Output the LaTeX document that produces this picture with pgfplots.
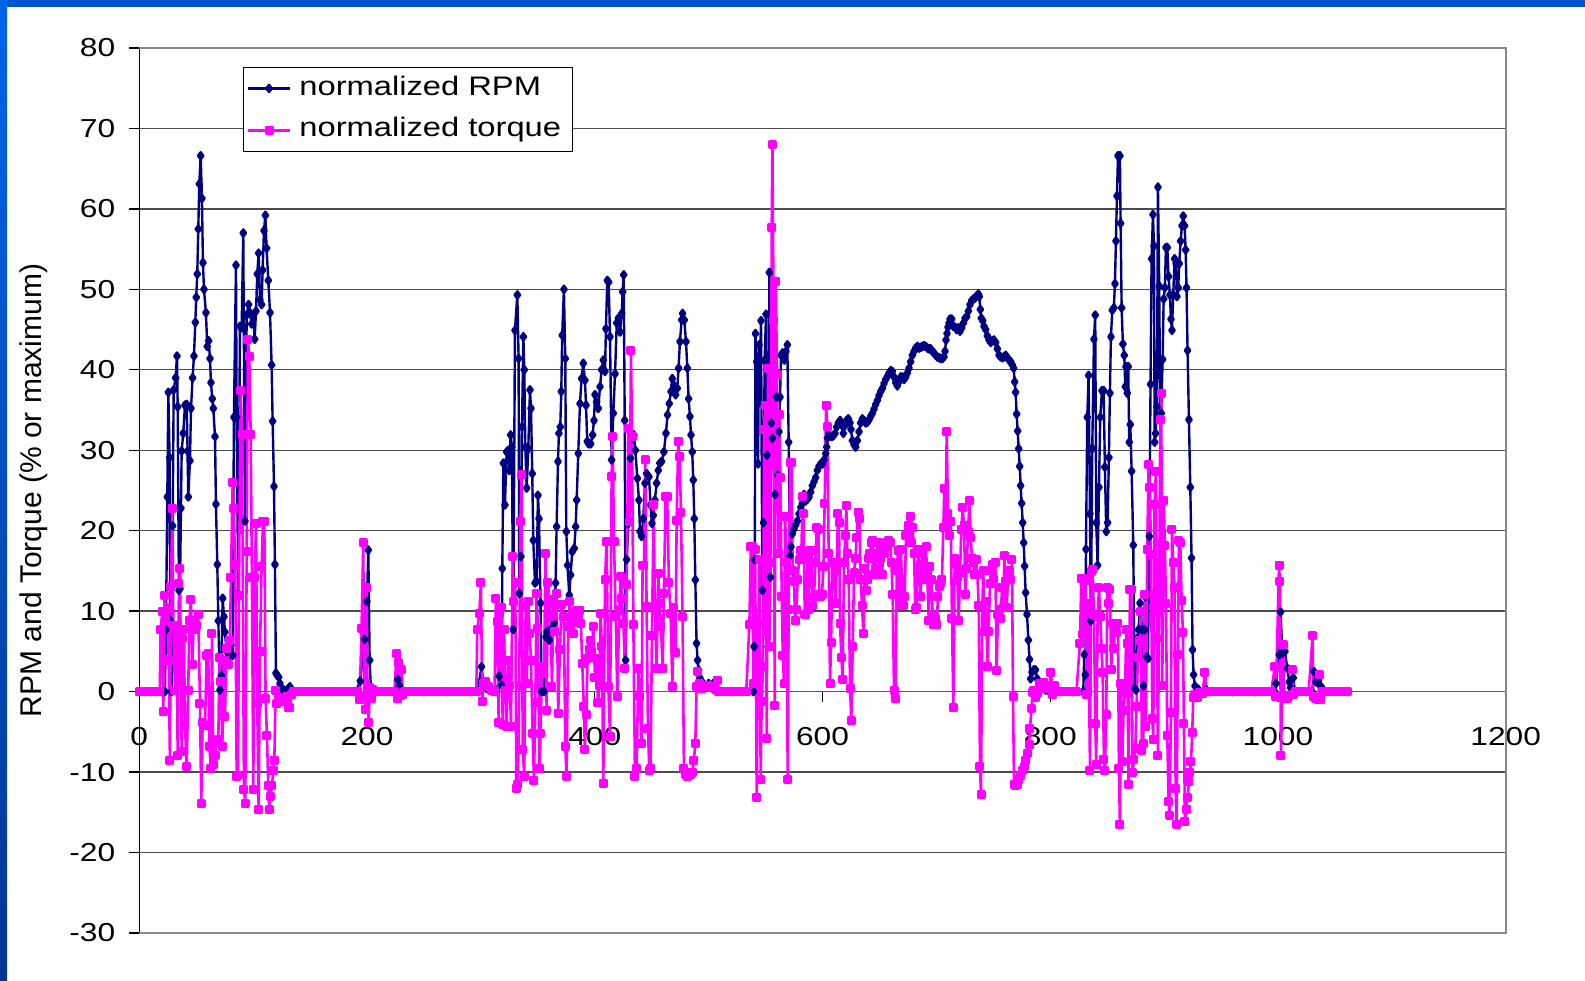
\documentclass[border=0pt]{standalone}
\usepackage{pgfplots}
\pgfplotsset{compat=1.18}
\usepackage{fontspec}
\setmainfont{Liberation Sans}[FakeStretch=1.22]
\newfontfamily\ylfont{Liberation Sans}
\definecolor{rpm}{RGB}{0,0,128}
\definecolor{trq}{RGB}{255,0,255}
\definecolor{framegray}{RGB}{136,136,136}
\definecolor{slideblue}{RGB}{0,85,204}
\begin{document}
\begin{tikzpicture}
\useasboundingbox (0,0) rectangle (396.25pt,245.25pt);
\fill[white] (0,0) rectangle (396.25pt,245.25pt);
\begin{axis}[
  name=main,
  at={(34.825pt,12pt)}, anchor=south west,
  scale only axis, width=341.6pt, height=221.25pt,
  xmin=0, xmax=1200, ymin=-30, ymax=80,
  axis x line=middle, axis y line=left,
  hide obscured x ticks=false, hide obscured y ticks=false,
  x axis line style={-, draw=black!65, line width=0.4pt},
  y axis line style={-, draw=black, line width=0.4pt},
  xtick={0,200,...,1200}, ytick={-30,-20,...,80},
  tick align=outside, major tick length=2.5pt,
  tick style={black, line width=0.35pt},
  ymajorgrids, grid style={line width=0.35pt, black!70},
  /pgf/number format/assume math mode=true,
  /pgf/number format/1000 sep={},
  xticklabel style={font=\fontsize{6.5}{7.8}\selectfont, yshift=-2.8pt},
  yticklabel style={font=\fontsize{6.5}{7.8}\selectfont},
  ylabel={RPM and Torque (\% or maximum)},
  every axis y label/.style={at={(axis description cs:-0.0776,0.5)}, anchor=center, rotate=90, font=\ylfont\fontsize{7.5}{9}\selectfont},
  legend style={at={(axis description cs:0.0757,0.979)}, anchor=north west, draw=black, line width=0.4pt, fill=white,
    font=\fontsize{6.7}{8}\selectfont, inner xsep=0.8pt, inner ysep=0.1pt, row sep=0.1pt},
  legend cell align=left,
  legend image code/.code={\draw[mark repeat=2,mark phase=2] plot coordinates {(0cm,0cm) (0.185cm,0cm) (0.37cm,0cm)};},
  clip=false,
]
\addplot[rpm, line width=0.6pt, line join=round, mark=diamond*, mark size=0.9pt, mark options={solid, fill=rpm, draw=rpm}] coordinates {
(0,0) (5,0) (10,0) (15,0) (20,0) (22.5,0)
(23.4,7.7) (24.6,24.2) (25.5,37.2) (26.6,29.1) (27.2,8.8) (28.4,0) (29.3,20.6) (30.2,37.5) (31.9,39) (33.1,41.7) (33.7,35.4) (34.8,12.6) (35.7,12.8) (36.6,22.8) (37.2,29.9) (38.6,32.1) (40.1,35.6) (41.6,35.7) (42.4,29.9) (43,24.2) (44.5,28.7) (45.4,35.2) (46.8,39) (48,41.7) (49.2,45.9) (50,49) (50.9,51.9) (51.8,57.5) (52.7,63.1) (53.9,66.6) (55,61.3) (55.9,53.3) (56.8,50) (58.5,47.1) (59.7,42.9) (60.9,43.6) (62.1,41.4) (62.9,38.4) (64.1,36.4) (65,35.2) (66.5,31.7) (67.3,23.3) (68.5,15.8) (69.4,8.8) (70.8,0.2) (72,2) (73.2,11.6) (74.4,9.3) (75.2,7.4) (76.7,5) (78.2,5) (79,3.4) (80.5,5.8) (82,4.5) (83.1,34.1) (84.9,53) (85.5,34.1) (86.9,12) (88.4,45.4) (89.9,45.2) (91.3,57) (92.8,21.2) (94.3,46.8) (96,48.1) (97.2,47.1) (98.7,45.7) (100.1,46.5) (101.3,43.8) (102.5,47.3) (103.6,51.9) (104.8,54.5) (106,48.7) (107.4,48.1) (108.3,52.4) (109.5,57.3) (110.7,59.2) (111.8,55.1) (113.3,51.1) (114.8,47.1) (116.2,40.6) (117.1,33.6) (118.3,25.5) (119.1,15.8) (120,2.3) (121.2,2) (122.4,1.8) (123.5,1) (125,0.3) (127,0.2) (130.9,0.4) (132.3,0.6) (133.8,0.2) (136,0)
(150,0) (170,0) (190,0) (194,1.3) (197.9,6.5) (199.9,11.2) (201.1,17.6) (202.3,3.9) (203.5,0) (215,0) (225,0) (227,1.5) (228.5,0.7) (230,0) (250,0) (270,0) (290,0) (297,0) (300.6,3.1) (302.1,1) (305,0.4) (313.8,0) (316.1,1.9) (318.2,0.8)
(318.8,15.3) (319.7,28.4) (321.1,23.2) (322.6,29.8) (324,30) (324.9,27.5) (326.1,31.9) (327.2,30.4) (328.4,7.7) (329.9,44.9) (332,49.3) (333.1,41.4) (333.7,12.2) (335.2,16.8) (336.1,32.9) (337.3,44.1) (338.1,40) (339,30.4) (340.2,25.3) (341.6,30.2) (343.1,37.5) (344,35.2) (345.1,27.1) (346,18.8) (347.5,13.5) (348.9,13.7) (350.1,24.4) (351,21.5) (352.4,11) (353.3,0) (355.4,0) (357.1,6.8) (358.3,7.5) (360.1,6.4) (362.1,7.9) (364.2,8.5) (365.6,13.5) (366.5,20.5) (367.7,28.6) (368.5,32.1) (369.7,32.9) (370.6,37.3) (371.4,44.3) (372.9,50) (374.1,41.4) (375,19.9) (376.1,15.7) (377.6,12) (378.8,14.5) (380.2,17.4) (382,17.8) (383.2,20.5) (384.1,23.8) (385.5,29.6) (387,35.8) (388.4,38.9) (389.9,40.8) (391.4,38.7) (392.3,35.6) (393.4,31.1) (394.6,30.8) (396.4,30.8) (398.1,31.9) (399.3,33.7) (400.2,36.9) (401.6,36) (403.1,35.2) (404.6,37.9) (406,40) (407.5,41.2) (409,39.8) (409.8,45.1) (411,51.1) (412.2,50.9) (413.4,44.1) (414.8,28.8) (416.3,34.6) (417.8,39.5) (419.3,45.8) (420.7,46.4) (422.2,44.7) (423.7,47) (424.5,49.7) (425.4,51.8) (426.3,33.7) (427.1,3.9) (428,16.4) (429.5,20.9) (431.5,29) (433.3,31.5) (434.4,31.9) (435.6,30) (437.4,26.5) (438.8,23.8) (439.7,19.9) (441.1,19.3) (442.6,21.5) (444.1,25.9) (445.5,27.1) (447.6,26.7) (449,23.2) (450.2,20.9) (451.4,21.9) (452.8,23.8) (454.3,25.9) (455.8,27.5) (457.2,28.4) (458.7,28.6) (460.7,29.8) (462.5,32.1) (463.9,34.4) (465.4,35.8) (466.9,37.3) (468.1,38.9) (469.5,38.1) (471,36.9) (472.5,37.7) (473.6,40.2) (474.8,43.5) (476.3,46.2) (477.1,47) (478.6,46.2) (480.1,43.5) (481.3,40.2) (482.4,36.4) (483.6,34.2) (484.5,31.9) (485.6,29.8) (486.5,26.3) (487.4,21.5) (488.3,13.9) (489.4,6) (490.3,3.9) (491.2,2.7) (492.4,1.7) (495.3,1) (500,1) (504,1) (507,0) (520,0) (530,0) (539.3,0)
(539.9,5.6) (540.5,16.4) (541.1,44.5) (542.2,41) (543.4,28.3) (544.3,43.1) (545.1,41) (546,46.1) (547.2,12.6) (548.1,21) (549.2,41.2) (550.4,46.9) (551.3,29.4) (552.2,5.6) (553.3,52.1) (554.2,14.2) (555.1,33.4) (556,31.5) (557.1,46.1) (558.3,24.5) (559.5,36.6) (560.7,26.9) (561.8,32.3) (562.7,36.6) (563.6,41.8) (565,42.1) (566.5,41.2) (568,42.3) (569.1,43.1) (570.3,31) (571.5,16.9) (572.4,18) (573.5,19.6) (575,20.2) (576.5,20.7) (577.9,21.2) (579.4,22.1) (580.9,22.9) (582.3,23.4) (583.8,24.5) (585.2,23.7) (586.7,23.9) (588.2,24.2) (589.6,24.8) (591.1,25.6) (592.6,26.1) (594,26.6) (595.5,27.5) (596.9,28) (598.4,28.3) (599.9,28.3) (601.3,28.8) (602.8,29.6) (603.7,30.4) (604.3,31.5) (605.2,32.1) (606.6,31.8) (608.1,31.7) (609.5,31.8) (611,32.1) (612.5,32.9) (613.9,33.4) (615.4,33.7) (616.9,33.1) (618.3,32.1) (619.8,33.1) (621.2,33.7) (622.7,33.9) (624.2,33.4) (625,32.6) (626.2,31.2) (627.7,30.7) (629.1,30.4) (630.6,31.2) (632.1,32.3) (633.5,33.4) (635,33.9) (636.5,33.7) (637.9,33.4) (639.4,33.5) (640.9,33.8) (642.3,34.2) (643.8,34.6) (645.2,35.1) (646.7,35.7) (648.2,36.2) (649.6,36.8) (651.1,37.3) (652.6,37.7) (654,38.3) (655.5,38.8) (657,39.2) (658.4,39.6) (659.9,39.9) (661.3,39.8) (662.8,39.1) (664.3,38.4) (665.7,38) (667.2,38.5) (668.7,39.1) (670.1,39.1) (671.6,38.8) (673.1,39.1) (674.5,39.6) (676,40.2) (677.4,41) (678.9,41.8) (680.4,42.3) (681.8,42.7) (683.3,42.9) (684.8,42.7) (686.2,42.8) (687.7,42.9) (689.2,43) (690.6,42.9) (692.1,42.7) (693.5,42.6) (695,42.6) (696.5,42.3) (697.9,42.1) (699.4,41.8) (700.9,41.6) (702.3,41.5) (703.8,41.4) (705.3,41.4) (706.7,41.6) (707.6,42.3) (708.5,43.7) (709.4,44.5) (710.2,45.3) (711.1,45.8) (712,46.3) (713.5,46.3) (714.9,45.4) (716.4,45.3) (717.8,45) (719.3,45.2) (720.8,44.8) (722.2,45.2) (723.7,45.8) (725.2,46.4) (726.6,46.6) (728.1,47.3) (729.5,48.1) (731,48.6) (732.5,48.8) (733.9,48.9) (735.4,49.2) (736.9,49.4) (737.7,49.1) (738.6,47.5) (739.5,46.4) (740.7,46.1) (741.8,45.4) (743.3,45) (744.8,44.2) (746.2,43.7) (747.7,43.4) (749.2,43.6) (750.6,43.7) (752.1,43.4) (753.6,42.6) (755,41.8) (756.5,41.6) (757.9,41.5) (759.4,41.6) (760.9,41.8) (762.3,41.5) (763.8,41.2) (765.3,41) (766.7,40.6) (767.9,40.2) (768.8,38.5) (769.6,37.2) (770.5,34.5) (771.4,32.4) (772.3,30.2) (773.2,28) (774,25.6) (774.9,23.4) (775.8,21) (776.7,18.5) (777.5,15.6) (778.4,12.3) (779.6,9.6) (780.8,6.4) (781.8,4) (782.8,1.6) (784,2.4) (785.5,2.7) (787,2.7) (788.5,1.6) (790.5,1) (793,0.6) (796,0.2) (799,0) (810,0) (820,0) (829,0)
(829.9,4.6) (830.8,2.1) (831.4,17.7) (832.5,34.1) (833.7,39.3) (834.9,22.1) (835.7,8.8) (836.9,30.2) (838.4,43.8) (839.5,46.8) (840.4,21) (841.6,15.7) (842.8,25.4) (843.9,34.1) (845.4,37.4) (846.9,37.4) (848,27.9) (849.2,19.9) (850.4,21) (851.5,29.1) (852.4,37.1) (853.3,44.1) (854.5,47.4) (855.9,47.7) (856.8,50.7) (857.7,56) (858.6,61.6) (859.5,66.6) (861.2,66.6) (861.8,58.2) (862.7,47.7) (863.8,43.2) (865,41.8) (865.9,37.9) (866.5,40.4) (867.6,37.1) (868.5,40.4) (869.4,31) (870.3,33.2) (871.5,27.4) (872.9,18.2) (874.1,0.4) (875.3,0.2) (876.4,6.6) (877.6,7.7) (878.8,11) (879.7,9.9) (880.5,7.7) (881.7,0.7) (882.9,7.7) (883.7,11.8) (884.9,4.3) (885.8,4.1) (887,19.3) (888.1,38.2) (889,53.8) (890.2,59.3) (891.1,55.4) (891.7,31) (892.5,32.1) (893.7,35.4) (894.6,62.7) (895.7,50.4) (896.6,34.3) (897.5,34.6) (898.7,41.3) (899.6,48.8) (900.7,50.2) (901.6,55.2) (902.8,55.2) (903.9,51.6) (905.1,49.3) (906,46.3) (906.9,44.9) (908,49.3) (909.2,53.8) (910.4,53.2) (911.3,49.1) (912.4,50.2) (913.3,53.2) (914.5,56) (915.7,57.9) (916.8,59.1) (918,57.9) (918.9,54.9) (919.7,50.2) (920.6,42.4) (921.8,33.8) (923,25.4) (924.1,16.6) (925,5.2) (925.9,2.1) (927.1,0.7) (930,0.3) (937,0.2) (940,0) (960,0) (980,0) (997,0)
(998.2,1) (1001.1,4.6) (1002.3,9.9) (1003.8,4.8) (1006.1,5) (1008.2,2.9) (1009.9,1.2) (1011,0.5) (1013.4,1.7) (1015,0) (1025,0) (1030,0) (1031.6,2.5) (1033.3,1.2) (1035.4,1.4) (1036.9,0.8) (1038.5,0.5) (1040,0) (1050,0) (1061,0)
};
\addlegendentry{normalized RPM}
\addplot[trq, line width=0.65pt, line join=round, mark=square*, mark size=0.8pt, mark options={solid, fill=trq, draw=trq}] coordinates {
(0,0) (3,0) (6,0) (9,0) (12,0) (15,0) (18,0)
(18.7,7.7) (20.2,9.9) (21.1,-2.5) (22.2,12) (23.4,8.8) (24.6,10.4) (25.8,3.9) (26.9,-8.5) (27.8,13.1) (29,22.8) (29.9,8.2) (31.3,0.2) (32.8,8.2) (33.7,-7.9) (34.8,13.4) (35.7,15.3) (37.2,-7.4) (38,6.6) (39.2,7.7) (40.1,-4.2) (41.6,-9.3) (43,0.2) (43.9,8.8) (45.4,11.5) (46.5,3.4) (48,8.8) (49.5,7.7) (50.6,8.2) (51.8,9.6) (53.3,-1.5) (54.4,-13.9) (55.6,-3.9) (57.7,-4.2) (59.1,4.5) (60.6,4.7) (61.5,-6.8) (62.9,-9.5) (63.8,7.2) (65,-9) (66.5,-7.9) (67.9,-6.3) (69.4,-6) (70.3,4.2) (71.7,1.2) (72.9,-6.8) (74.4,3.9) (75.2,-3.1) (76.7,5.3) (78.2,3.4) (79.6,6.4) (80.5,14.2) (82,26) (82.8,22.8) (84.3,15.8) (85.5,-10.6) (86.7,-10.4) (87.5,12) (89,37.4) (90.2,32) (91.9,-12.2) (93.1,-13.9) (94.3,17.4) (95.4,43.8) (96.6,41.7) (97.8,32) (98.9,14.2) (100.1,-12.2) (101.3,14.2) (102.5,20.9) (103.6,-1.5) (104.8,-14.7) (106,5) (107.4,15.5) (108.6,21.2) (109.8,21.2) (110.9,-0.9) (112.1,-5.5) (113.3,-11.7) (114.2,-14.7) (115.3,-13) (116.5,-11.7) (117.7,-9.8) (118.6,-8.5) (119.7,0.2) (120.9,-1.5) (122.1,-0.9) (123.5,-1.2) (125,-0.9) (126.5,-1.2) (127.9,-0.9) (129.4,-0.6) (130.9,-2) (132.3,-2) (133.8,-0.4) (135,0)
(138,0) (141,0) (144,0) (147,0) (150,0) (153,0) (156,0) (159,0) (162,0) (165,0) (168,0) (171,0) (174,0) (177,0) (180,0) (183,0) (186,0) (189,0) (192,0)
(193.5,-1) (195.2,7.9) (196.7,18.5) (197.5,-0.5) (198.5,-2.2) (199.6,12.9) (200.5,-0.5) (201.4,-3.8) (202.5,0.5) (203.5,-0.8) (204.5,0.3) (206,0) (209,0) (212,0) (215,0) (218,0) (221,0) (224,0)
(226,4.7) (226.8,-0.9) (227.5,3.6) (229,-0.5) (230.3,2.7) (231.5,-0.3) (233,0) (236,0) (239,0) (242,0) (245,0) (248,0) (251,0) (254,0) (257,0) (260,0) (263,0) (266,0) (269,0) (272,0) (275,0) (278,0) (281,0) (284,0) (287,0) (290,0) (293,0) (296,0)
(296.8,7.7) (298.6,9.7) (300,13.5) (301.2,-1.2) (302.7,1) (304.4,1.2) (306.5,0.6) (309.4,0.2) (312,0) (313.2,11.6) (314.4,8.7) (315.6,-3.9) (316.7,9.7) (318.2,10.4) (319.1,-4.1) (320.3,7.7) (321.4,0.2) (322.6,-4.3) (324,3.9) (325.5,0.8) (326.4,-4.3) (327.9,16.8) (329,11.2) (330.2,13.5) (331.1,-12) (332.5,-11.5) (333.7,0.8) (334.6,21.1) (335.8,27) (336.7,-7.2) (338.1,-10.5) (339.3,10.6) (340.2,1) (341.6,11.2) (342.8,7.2) (344,3.9) (345.4,-5.2) (346.6,-11) (347.8,-1.4) (348.9,12.2) (350.1,7.9) (351.3,-9.5) (352.4,-5.2) (353.6,3.1) (355.4,2.3) (356.8,17.2) (357.7,-2.3) (358.9,13.5) (360.1,11.4) (361.2,9.3) (362.4,0.6) (363.6,11) (365,7.5) (366.5,12.2) (367.9,-2.7) (369.4,5.2) (370.8,10.8) (372.9,9.3) (374.1,-6.8) (375.2,-10.5) (376.7,8.1) (378.1,11.2) (379.6,8.5) (381.1,7.2) (382.5,9.3) (384,10.1) (385.5,9.5) (386.9,10.1) (387.8,8.5) (389,3.5) (390.4,-1.9) (391.3,-7.2) (392.5,-2.9) (393.7,4.1) (395.1,5.2) (396.3,6.4) (397.5,5) (398.7,8.1) (400.2,1.7) (401.6,4.1) (402.8,-1.4) (404,0.8) (405.1,9.7) (406.3,5.6) (407.5,-11.4) (409,13.9) (410.4,18.6) (411.9,0.6) (413.4,-5.6) (414.8,26.7) (415.7,31.7) (416.9,18.6) (418.4,9.3) (419.8,-0.6) (421.6,10.1) (422.7,14.3) (423.9,11.6) (425.1,8.5) (426.5,2.9) (428,13.3) (429.5,32.7) (430.6,21.1) (431.8,42.4) (432.7,31.7) (433.9,8.3) (435.3,-10.5) (436.8,-9.5) (438.3,2.9) (439.7,-0.6) (441.1,-6.4) (442,15.7) (443.2,15.7) (444.4,28.8) (445.5,10.6) (446.7,-4.6) (447.9,-9.8) (449,-9.5) (450.2,7) (451.7,23.2) (452.8,10.4) (454.3,2.9) (455.8,14.7) (456.9,11) (458.1,8.1) (459.6,2.9) (460.7,12.2) (462.2,24.2) (463.6,24.2) (465.1,13.5) (466.6,9.7) (468.1,0.6) (469.5,10.4) (471,4.8) (471.9,21.3) (473.3,31.1) (474.5,29.2) (475.7,22.2) (477.1,9.3) (478.3,-9.5) (479.8,-10.3) (481.3,-10.5) (483,-10) (484.5,-10.3) (485.6,-10) (487.1,-8.5) (488.3,-6.4) (489.4,0.6) (490.3,2.5) (491.8,1) (493.9,0.4) (496.8,0.6) (499.7,0.8) (502,0.5) (504.1,0.6) (506,0.3) (507.6,1.4) (509,0)
(512,0) (515,0) (518,0) (521,0) (524,0) (527,0) (530,0) (533,0)
(535.8,8.3) (537,18) (538.1,18) (539.3,1) (540.8,17.7) (542.2,-13.1) (543.7,8.5) (544.6,16.4) (545.7,-10.9) (546.6,-1.2) (547.8,3.1) (548.7,32.6) (549.8,35.6) (551,-5.8) (552.2,40.2) (553.3,5.6) (554.5,16.1) (555.4,57.7) (556,68) (557.1,46.1) (558,-1.7) (558.9,51) (560.1,39.4) (561.2,17.2) (562.1,34.5) (563,26.6) (564.2,11.8) (565.1,4.5) (566.2,1) (567.1,21.8) (568.6,16.1) (569.4,-10.9) (570.3,10.2) (571.5,28.5) (572.7,28.5) (573.8,15) (575,13.7) (575.9,8.8) (577.1,10.2) (578.2,13.9) (579.4,16.4) (580.3,17.5) (581.4,17.2) (582.6,24.2) (583.2,22.1) (584.4,9.6) (585.5,9.6) (586.7,16.4) (587.9,10.2) (589,17.5) (590.2,17.5) (591.4,10.7) (592.6,11.8) (593.7,16.1) (594.9,20.4) (596.4,20.2) (597.2,12.1) (598.4,11.8) (599.6,12.1) (600.8,15.6) (601.9,23.4) (603.1,35.6) (604.3,32.9) (605.4,17.2) (606.6,1) (607.5,6.1) (608.7,16.1) (610.1,16.1) (611.3,11) (612.5,15.8) (613.6,22.1) (614.5,21) (615.4,8.5) (616.6,4.2) (617.7,1.5) (618.9,16.1) (620.1,19.4) (620.9,23.1) (621.8,17.2) (623,13.9) (624.2,0.4) (625.3,-3.6) (626.5,5.6) (627.7,14.8) (628.9,16.6) (630,19.1) (631.2,22.3) (632.4,21.5) (633.5,13.9) (634.7,10.7) (635.9,7.2) (637.1,15.3) (638.2,12.6) (639.4,13.9) (640.6,16.6) (641.7,17.2) (642.9,18.5) (644.1,18.8) (645.2,14.5) (646.4,15.3) (647.6,17.2) (648.8,18.5) (649.9,14.5) (651.1,16.6) (652.3,14.5) (653.4,17.7) (654.6,17.2) (655.8,18.5) (657,18) (658.1,18.8) (659.3,18.5) (660.5,16.1) (661.6,12.1) (662.8,0.2) (664,-0.9) (665.2,15) (666.3,17.5) (667.5,10.7) (668.7,17.7) (669.8,13.9) (671,10.7) (672.2,11.8) (673.3,19.4) (674.5,19.6) (675.7,20.7) (676.9,21.8) (678,18.5) (679.2,20.4) (680.4,17.2) (681.5,10.2) (682.7,10.4) (683.9,17.7) (685.1,15.6) (686.2,11.8) (687.4,17.2) (688.6,15.6) (689.7,13.9) (690.9,18) (692.1,13.9) (693.3,8.8) (694.4,15.6) (695.6,13.9) (696.8,9.4) (697.9,8.3) (699.1,9.1) (700.3,8.3) (701.4,11.8) (702.6,13.1) (703.8,13.4) (704.9,13.9) (706.1,20.4) (707,25.3) (707.9,20.4) (709.1,32.3) (710.2,22.1) (711.4,19.4) (712.6,21.2) (713.7,9.1) (714.9,-2) (716.1,16.6) (717.3,15.8) (718.4,14.2) (719.6,8.8) (720.8,14.8) (721.9,20.2) (723.1,22.9) (724.3,20.7) (725.4,12.1) (726.6,15.3) (727.8,19.9) (729,23.7) (730.1,19.1) (731.3,16.6) (732.5,16.1) (733.6,14.5) (734.8,16.4) (736,14.5) (737.2,10.7) (738.3,-9.3) (739.2,-12.8) (740.4,10.7) (741.2,15) (742.4,7.5) (743.6,11.2) (744.8,3.1) (745.9,7.5) (747.1,13.4) (748.3,15) (749.4,15.8) (750.6,13.9) (751.8,16.1) (752.9,2.6) (754.1,9.6) (755.3,10.2) (756.5,9.1) (757.6,12.9) (758.8,10.4) (759.7,16.9) (760.6,13.7) (761.7,10.4) (762.9,13.9) (764.1,15) (765.3,13.9) (766.4,16.4) (767.3,-0.6) (768.2,-11.5) (769.6,-11.7) (771.1,-11.5) (772.3,-10.9) (774,-10.4) (775.5,-9.8) (777,-9.3) (778.4,-8.5) (779.9,-7.7) (781.4,-6.6) (782.2,-4.6) (783.6,-2.1) (784.5,-0.1) (785.7,0.2) (787.2,-0.7) (788.6,-0.2) (790.4,1) (792.4,0.4) (794.5,1.1) (796.8,0.4) (799.2,0.7) (800.6,2.4) (802.1,-0.4) (803.3,0.7) (805,0)
(808,0) (811,0) (814,0) (817,0) (820,0) (823,0)
(826.1,6) (827.3,14.1) (828.4,7.1) (829.6,14.1) (831.1,13.8) (831.9,-0.4) (833.4,11) (834.9,-9.8) (836,14.9) (837.2,15.2) (838.4,9.6) (839.5,-4) (840.4,-9) (841.6,9.3) (842.8,12.9) (843.9,9.3) (845.1,5.4) (846,2.4) (847.2,-8.4) (848,-9.8) (849.2,-2.9) (850.1,12.9) (851.3,11) (852.4,12.7) (853.6,2.7) (854.8,8.5) (855.9,5.4) (857.1,8.5) (858.3,7.4) (859.5,8.5) (860.3,-9.6) (861.2,-16.5) (862.1,1) (863.3,-8.7) (864.4,-2.3) (865.6,-0.1) (866.8,7.7) (867.6,6) (868.8,-11.5) (870,12.7) (871.2,12.7) (872.3,-10.1) (873.5,-8.4) (874.7,-7.1) (875.8,-1.8) (877,4.3) (878.2,6.3) (879.4,9.9) (880.5,-7.3) (881.7,-6.5) (882.9,12.1) (884,-4.3) (885.2,17.7) (886.4,28.2) (887.6,25.4) (888.4,17.1) (889.6,-3.4) (890.5,-5.9) (891.6,23.2) (892.8,27.4) (893.7,6.6) (894.6,-7.9) (895.7,11.8) (896.6,33.8) (897.5,37.1) (898.4,0.7) (899.6,23.8) (900.7,18.2) (901.6,11) (902.8,-5.4) (903.9,-13.7) (904.8,-15.4) (906,-2.6) (906.9,20.2) (908,16) (909.2,12.9) (910.1,-12.1) (911,-16.5) (912.1,4.6) (913,18.8) (914.2,18.5) (915.4,11.3) (916.5,7.4) (917.4,-4) (918.3,-16.2) (919.5,-14.6) (920.6,-13.2) (921.8,-11.2) (922.7,-10.1) (923.6,-8.7) (924.7,-5.1) (925.6,-0.7) (927.1,-0.4) (929.1,-0.7) (931.5,-0.1) (933.8,-0.2) (935.8,2.4) (937.5,0)
(940,0) (943,0) (946,0) (949,0) (952,0) (955,0) (958,0) (961,0) (964,0) (967,0) (970,0) (973,0) (976,0) (979,0) (982,0) (985,0) (988,0) (991,0) (994,0)
(997.3,3.1) (998.2,-0.6) (1000.9,15.7) (1001.7,13.7) (1002.6,-7.9) (1004.6,5.8) (1005.5,-0.8) (1008,-0.8) (1010,-0.5) (1012.8,2.7) (1013.5,-0.3) (1015,0) (1018,0) (1021,0) (1024,0) (1027,0)
(1030.4,7) (1031,-0.6) (1033,-0.8) (1035.4,-1) (1036.3,2.1) (1037.5,-1) (1039,0) (1042,0) (1045,0) (1048,0) (1051,0) (1054,0) (1057,0) (1060,0) (1061,0)
};
\addlegendentry{normalized torque}
\end{axis}
\draw[framegray, line width=0.5pt] (main.north west) -- (main.north east) -- (main.south east) -- (main.south west);
\fill[slideblue] (0,243.5pt) rectangle (396.25pt,245.25pt);
\shade[top color={rgb,255:red,0;green,100;blue,235}, bottom color={rgb,255:red,0;green,55;blue,150}] (0,0) rectangle (1.75pt,245.25pt);
\end{tikzpicture}
\end{document}
